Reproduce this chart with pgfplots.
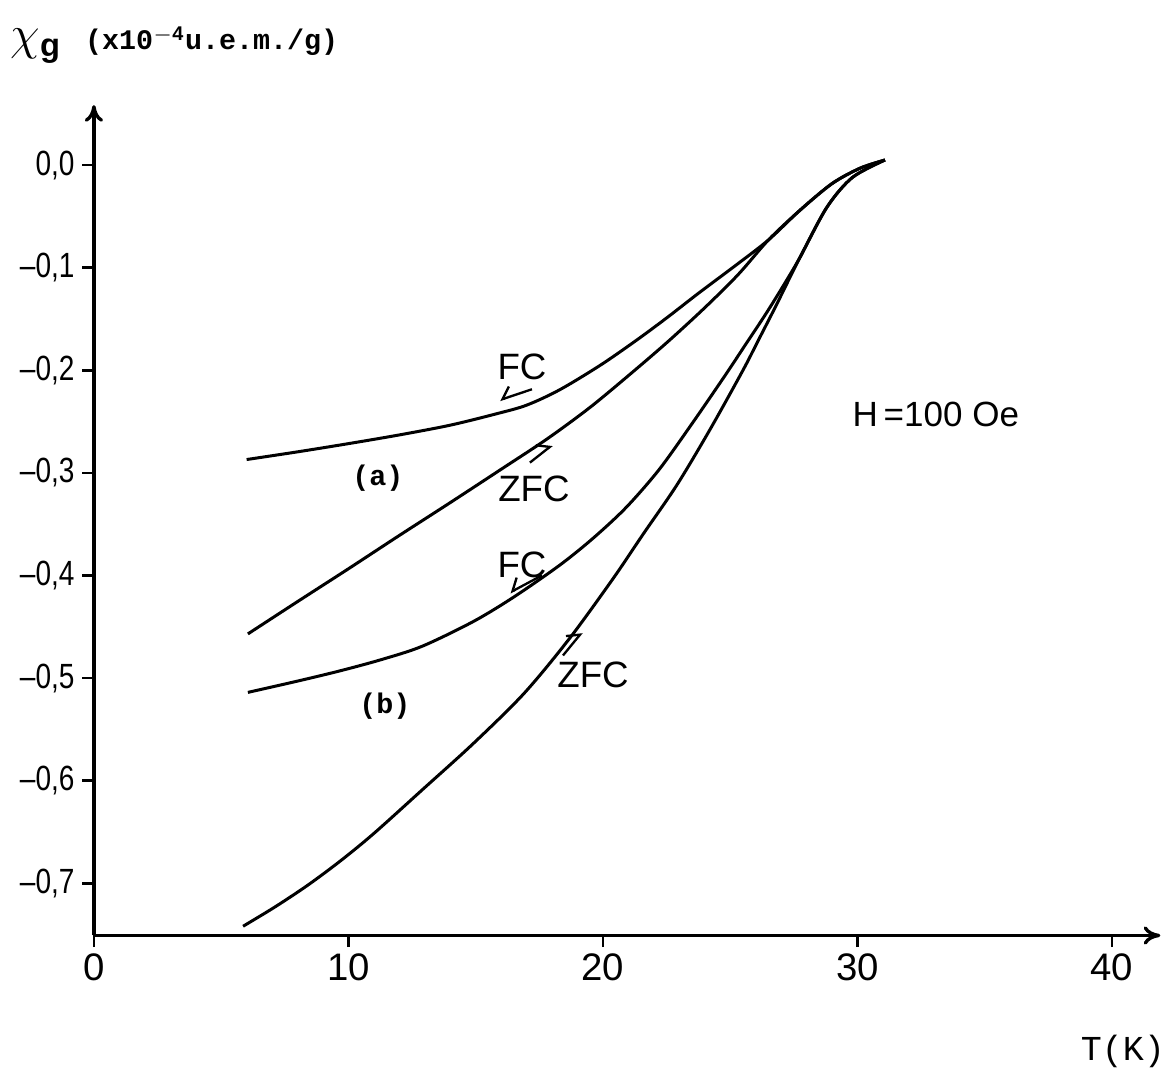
\documentclass[border=0pt]{standalone}
\usepackage{pgfplots}
\pgfplotsset{compat=1.18}
\usepackage{fontspec}
\setmainfont{Liberation Sans}
\setmonofont{Liberation Mono}
\newfontfamily\narrowsans[FakeStretch=0.8]{Liberation Sans}
\usetikzlibrary{arrows.meta}

\pgfplotstableread{
T v
6.0 -0.287
8.0 -0.2795
10.0 -0.2715
12.0 -0.263
14.0 -0.2535
15.8 -0.2425
17.0 -0.234
18.3 -0.219
19.9 -0.195
21.3 -0.171
22.5 -0.149
23.8 -0.124
25.2 -0.098
26.5 -0.073
27.74 -0.044
29.0 -0.018
30.1 -0.003
31.08 0.005
}\FCa

\pgfplotstableread{
T v
6.05 -0.457
8.0 -0.4255
10.0 -0.3935
12.0 -0.361
14.0 -0.329
16.0 -0.2965
17.8 -0.267
19.5 -0.236
21.2 -0.201
22.6 -0.171
24.0 -0.139
25.3 -0.107
26.5 -0.073
27.74 -0.044
29.0 -0.018
30.1 -0.003
31.08 0.005
}\ZFCa

\pgfplotstableread{
T v
6.05 -0.514
8.0 -0.503
9.67 -0.493
11.3 -0.482
12.9 -0.469
14.9 -0.445
16.5 -0.421
18.3 -0.390
19.6 -0.364
20.9 -0.334
22.2 -0.297
23.5 -0.252
24.8 -0.205
25.6 -0.175
26.4 -0.145
27.1 -0.117
27.74 -0.090
28.8 -0.041
29.8 -0.012
31.08 0.005
}\FCb

\pgfplotstableread{
T v
5.86 -0.742
7.1 -0.7234
8.4 -0.702
9.7 -0.678
11.0 -0.6515
12.9 -0.609
14.9 -0.564
16.9 -0.515
18.7 -0.461
20.4 -0.403
21.6 -0.359
22.9 -0.312
24.2 -0.258
25.5 -0.200
26.1 -0.171
26.8 -0.137
27.74 -0.090
28.8 -0.041
29.8 -0.012
31.08 0.005
}\ZFCb

\begin{document}
\begin{tikzpicture}
\begin{axis}[
  scale only axis,
  width=319.8pt, height=249pt,
  xmin=0, xmax=41.9, ymin=-0.751, ymax=0.0585,
  axis lines=left,
  axis line style={line width=1pt, -{To[length=5pt,width=5.5pt]}},
  clip=false,
  xtick={0,10,20,30,40},
  xticklabels={0,10,20,30,40},
  ytick={-0.7,-0.6,-0.5,-0.4,-0.3,-0.2,-0.1,0},
  yticklabels={{–0,7},{–0,6},{–0,5},{–0,4},{–0,3},{–0,2},{–0,1},{0,0}},
  tick align=outside,
  major tick length=3.5pt,
  tick style={line width=0.8pt, black},
  xticklabel style={font=\fontsize{11.5}{13}\selectfont, yshift=1.5pt},
  yticklabel style={font=\narrowsans\fontsize{10.5}{12}\selectfont, xshift=1.2pt},
]
\addplot[smooth, line width=0.9pt, black] table[x=T, y=v] {\FCa};
\addplot[smooth, line width=0.9pt, black] table[x=T, y=v] {\ZFCa};
\addplot[smooth, line width=0.9pt, black] table[x=T, y=v] {\FCb};
\addplot[smooth, line width=0.9pt, black] table[x=T, y=v] {\ZFCb};

% annotations
\node[font=\fontsize{11}{13}\selectfont] at (axis cs:16.82,-0.197) {FC};
\draw[line width=0.7pt, -{Straight Barb[harpoon,swap,length=3pt]}] (axis cs:17.21,-0.2185) -- (axis cs:15.95,-0.229);
\node[font=\fontsize{11}{13}\selectfont] at (axis cs:17.29,-0.316) {ZFC};
\draw[line width=0.7pt, -{Straight Barb[harpoon,length=3pt]}] (axis cs:17.13,-0.290) -- (axis cs:18.0,-0.273);
\node[font=\fontsize{11}{13}\selectfont] at (axis cs:16.82,-0.390) {FC};
\draw[line width=0.7pt, -{Straight Barb[harpoon,swap,length=3pt]}] (axis cs:17.6,-0.400) -- (axis cs:16.35,-0.4166);
\node[font=\fontsize{11}{13}\selectfont] at (axis cs:19.61,-0.4966) {ZFC};
\draw[line width=0.7pt, -{Straight Barb[harpoon,length=3pt]}] (axis cs:18.43,-0.478) -- (axis cs:19.17,-0.4556);
\node[font=\ttfamily\bfseries\fontsize{8.5}{10}\selectfont] at (axis cs:11.16,-0.305) {(a)};
\node[font=\ttfamily\bfseries\fontsize{8.5}{10}\selectfont] at (axis cs:11.43,-0.527) {(b)};
\node[font=\fontsize{10.5}{13}\selectfont] at (axis cs:33.08,-0.243) {H\,=100 Oe};
\node[anchor=west, inner sep=0pt] at (axis cs:-3.3,0.117) {\fontsize{14}{16}\selectfont$\chi_{\mathbf{g}}$\hspace{7pt}{\ttfamily\bfseries\fontsize{8.5}{10}\selectfont (x10$^{\mathbf{-4}}$u.e.m./g)}};
\node[font=\ttfamily\fontsize{10.5}{12}\selectfont] at (axis cs:40.43,-0.864) {T(K)};

\coordinate (BL) at (axis cs:-3.69,-0.888);
\coordinate (TR) at (axis cs:42.24,0.161);
\end{axis}
\pgfresetboundingbox
\path (BL) rectangle (TR);
\end{tikzpicture}
\end{document}
